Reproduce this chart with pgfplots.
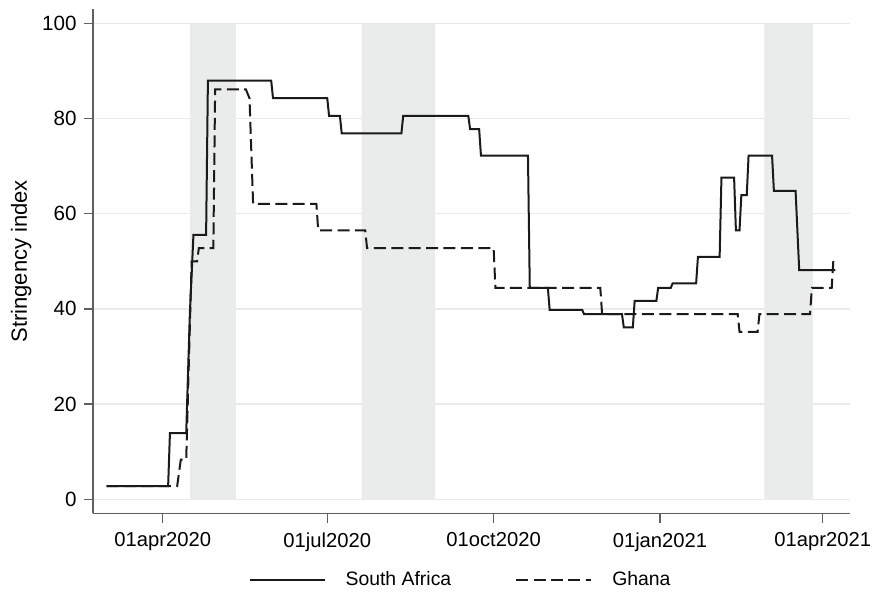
\documentclass[border=0pt]{standalone}
\usepackage{fontspec}
\setmainfont{Liberation Sans}
\usepackage{pgfplots}
\pgfplotsset{compat=1.18}
\definecolor{bandc}{RGB}{234,235,235}
\definecolor{gridc}{RGB}{234,234,234}
\definecolor{axc}{RGB}{95,95,95}
\definecolor{linec}{RGB}{26,26,26}
\begin{document}
\begin{tikzpicture}
\useasboundingbox (-46.5pt,-41.35pt) rectangle (392pt,256.65pt);
\begin{axis}[
 scale only axis, width=378.5pt, height=252pt,
 xmin=52.45, xmax=471.1, ymin=-2.94, ymax=102.94,
 axis x line*=bottom, axis y line*=left,
 axis line style={draw=axc, line width=0.65pt},
 tick style={draw=axc, line width=0.65pt},
 tick align=outside, major tick length=4.7pt,
 xtick={91,182,274,366,456},
 xticklabels={01apr2020,01jul2020,01oct2020,01jan2021,01apr2021},
 xticklabel style={yshift=-1.5pt, font=\fontsize{10.1}{12}\selectfont},
 ytick={0,20,40,60,80,100},
 yticklabel style={font=\fontsize{10.3}{12}\selectfont},
 ymajorgrids, grid style={draw=gridc, line width=0.65pt},
 /pgf/number format/assume math mode=true,
 ylabel={Stringency index},
 ylabel style={at={(axis description cs:-0.095,0.5)}, anchor=center, font=\fontsize{11}{13}\selectfont},
 legend columns=2,
 legend style={at={(0.4842,-0.132)}, anchor=center, draw=none, fill=none,
   font=\fontsize{9.7}{11.5}\selectfont,
   nodes={inner sep=0pt},
   /tikz/every even column/.append style={column sep=32pt}},
 legend image code/.code={\draw[#1] (0pt,0pt) -- (37.5pt,0pt); \path (47.5pt,0pt);},
]
\addplot[fill=bandc, draw=none, forget plot] coordinates {(106.1,0) (106.1,100) (131.4,100) (131.4,0)} \closedcycle;
\addplot[fill=bandc, draw=none, forget plot] coordinates {(201.05,0) (201.05,100) (241.6,100) (241.6,0)} \closedcycle;
\addplot[fill=bandc, draw=none, forget plot] coordinates {(423.7,0) (423.7,100) (450.5,100) (450.5,0)} \closedcycle;

\addplot[linec, line width=1pt, line join=miter] coordinates {
(60,2.78) (94,2.78) (95,13.89) (104,13.89) (106,38.89) (108,55.56) (115,55.56) (116,87.96)
(151,87.96) (152,84.26) (182,84.26) (183,80.56) (189,80.56) (190,76.85) (223,76.85) (224,80.56)
(260,80.56) (261,77.78) (266,77.78) (267,72.22) (293,72.22) (294,44.44) (304,44.44) (305,39.81)
(323,39.81) (324,38.89) (345,38.89) (346,36.11) (351,36.11) (352,41.67) (364,41.67) (365,44.44)
(372,44.44) (373,45.37) (386,45.37) (387,50.93) (399,50.93) (400,67.59) (407,67.59) (408,56.48)
(410,56.48) (411,63.89) (414,63.89) (415,72.22) (428,72.22) (429,64.81) (441,64.81) (443,48.15)
(463,48.15)
};
\addlegendentry{South Africa}
\addplot[linec, line width=1pt, dash pattern=on 6pt off 2.7pt, line join=miter] coordinates {
(60,2.78) (99,2.78) (101,8.33) (104,8.33) (107,50.00) (110,50.00) (111,52.78) (119,52.78) (120,86.11)
(137,86.11) (139,84.26) (141,62.04) (176,62.04) (177,56.48) (203,56.48) (204,52.78) (274,52.78)
(275,44.44) (333,44.44) (334,38.89) (409,38.89) (410,35.19) (420,35.19) (421,38.89) (449,38.89)
(450,44.44) (461,44.44) (462,50.93)
};
\addlegendentry{Ghana}
\end{axis}
\end{tikzpicture}
\end{document}
